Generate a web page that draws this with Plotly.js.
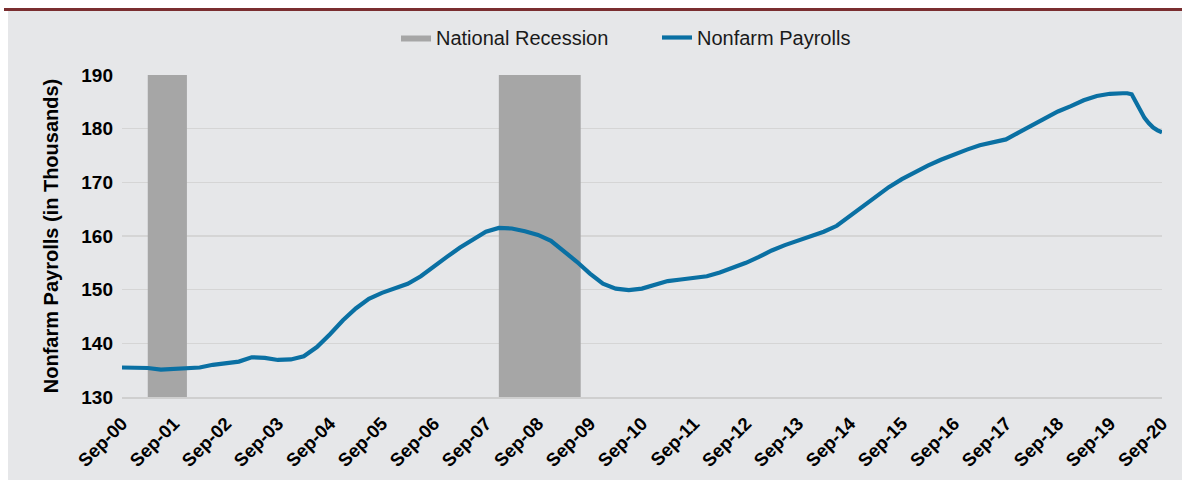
<!DOCTYPE html>
<html>
<head>
<meta charset="utf-8">
<script src="https://cdn.plot.ly/plotly-3.0.1.min.js"></script>
<style>html,body{margin:0;padding:0;background:#ffffff;}#chart{width:1182px;height:487px;}</style>
</head>
<body>
<div id="chart"></div>
<script>
// ---- Data ----
const payrollDates = [
  "2000-09-01","2000-12-01","2001-03-01","2001-06-01","2001-09-01","2001-12-01",
  "2002-03-01","2002-06-01","2002-09-01","2002-12-01","2003-03-01","2003-06-01",
  "2003-09-01","2003-12-01","2004-03-01","2004-06-01","2004-09-01","2004-12-01",
  "2005-03-01","2005-06-01","2005-09-01","2005-12-01","2006-03-01","2006-06-01",
  "2006-09-01","2006-12-01","2007-03-01","2007-06-01","2007-09-01","2007-12-01",
  "2008-03-01","2008-06-01","2008-09-01","2008-12-01","2009-03-01","2009-06-01",
  "2009-09-01","2009-12-01","2010-03-01","2010-06-01","2010-09-01","2010-12-01",
  "2011-03-01","2011-06-01","2011-09-01","2011-12-01","2012-03-01","2012-06-01",
  "2012-09-01","2012-12-01","2013-03-01","2013-06-01","2013-09-01","2013-12-01",
  "2014-03-01","2014-06-01","2014-09-01","2014-12-01","2015-03-01","2015-06-01",
  "2015-09-01","2015-12-01","2016-03-01","2016-06-01","2016-09-01","2016-12-01",
  "2017-03-01","2017-06-01","2017-09-01","2017-12-01","2018-03-01","2018-06-01",
  "2018-09-01","2018-12-01","2019-03-01","2019-06-01","2019-09-01","2019-12-01",
  "2020-01-01","2020-02-01","2020-03-01","2020-04-01","2020-05-01","2020-06-01",
  "2020-07-01","2020-08-01","2020-09-01"
];
const nonfarmPayrolls = [
  135.5,135.5,135.4,135.1,135.3,135.5,
  135.5,136.0,136.4,136.6,137.4,137.3,
  136.9,137.0,137.6,139.3,141.7,144.3,
  146.5,148.3,149.4,150.2,151.1,152.5,
  154.2,156.1,157.8,159.4,160.8,161.5,
  161.4,160.9,160.2,159.1,157.2,155.2,
  153.0,151.1,150.2,149.9,150.2,151.0,
  151.6,151.9,152.3,152.5,153.2,154.1,
  155.0,156.1,157.3,158.3,159.1,160.0,
  160.8,161.9,163.7,165.6,167.4,169.1,
  170.6,171.9,173.1,174.2,175.2,176.1,
  176.9,177.5,178.0,179.3,180.6,181.8,
  183.2,184.2,185.3,186.1,186.5,186.6,
  186.6,186.4,185.0,183.2,182.0,181.0,
  180.2,179.7,179.3
];
const recessionStart = ["2001-03-01","2007-12-01"];
const recessionEnd   = ["2001-12-01","2009-06-28"];
const yMin = 130, yMax = 190;
const seriesNames = ["National Recession","Nonfarm Payrolls"];
const xStart = "2000-09-01", xEnd = "2020-09-01";
const yTitle = "Nonfarm Payrolls (in Thousands)";

// ---- Build recession polygons ----
const recX = [], recY = [];
recessionStart.forEach((s, i) => {
  recX.push(s, s, recessionEnd[i], recessionEnd[i], null);
  recY.push(yMin, yMax, yMax, yMin, null);
});

const FONT = "Liberation Sans, Arial, Helvetica, sans-serif";
const traces = [
  {
    type: "scatter", mode: "lines", name: seriesNames[0],
    x: recX, y: recY, fill: "toself", fillcolor: "#a6a6a6",
    line: {width: 0, color: "#a6a6a6"}, hoverinfo: "skip", connectgaps: false
  },
  {
    type: "scatter", mode: "lines", name: seriesNames[1],
    x: payrollDates, y: nonfarmPayrolls,
    line: {color: "#0a70a3", width: 4.2}
  }
];

// pixel -> paper helpers (plot area 122..1162 x, 75..397 y)
const L = 122, R = 20, T = 75, B = 90, W = 1182, H = 487;
const pw = W - L - R, ph = H - T - B;
const px = v => (v - L) / pw;
const py = v => (H - B - v) / ph;

const layout = {
  width: W, height: H, autosize: false,
  margin: {l: L, r: R, t: T, b: B, pad: 0},
  paper_bgcolor: "#e6e7e9", plot_bgcolor: "#e6e7e9",
  font: {family: FONT, color: "#000000"},
  showlegend: true,
  legend: {
    orientation: "h", xref: "container", yref: "container",
    x: 396 / W, xanchor: "left", y: 1 - 18 / H, yanchor: "top",
    bgcolor: "rgba(0,0,0,0)", font: {size: 20, color: "#1a1a1a", family: FONT},
    entrywidth: 216, entrywidthmode: "pixels", traceorder: "normal"
  },
  xaxis: {
    type: "date", range: [xStart, xEnd],
    tick0: xStart, dtick: "M12", tickformat: "%b-%y",
    tickangle: -45, ticks: "", showgrid: false, zeroline: false,
    showline: true, linecolor: "#cfcfcf", linewidth: 1.5,
    ticklabelstandoff: 7,
    tickfont: {size: 18.5, family: FONT, weight: "bold", color: "#000000"}
  },
  yaxis: {
    range: [yMin, yMax], dtick: 10, tick0: 130,
    showgrid: true, gridcolor: "#d5d5d5", gridwidth: 1.5, zeroline: false,
    ticks: "", ticklabelstandoff: 8,
    tickfont: {size: 19, family: FONT, weight: "bold", color: "#000000"},
    title: {text: yTitle, standoff: 17, font: {size: 20, family: FONT, weight: "bold", color: "#000000"}}
  },
  shapes: [
    {type: "rect", xref: "paper", yref: "paper", x0: px(-5), x1: px(W + 5), y0: py(-5), y1: py(9), fillcolor: "#ffffff", line: {width: 0}, layer: "below"},
    {type: "rect", xref: "paper", yref: "paper", x0: px(-5), x1: px(8), y0: py(-5), y1: py(H + 5), fillcolor: "#ffffff", line: {width: 0}, layer: "below"},
    {type: "rect", xref: "paper", yref: "paper", x0: px(-5), x1: px(W + 5), y0: py(480), y1: py(H + 5), fillcolor: "#ffffff", line: {width: 0}, layer: "below"},
    {type: "rect", xref: "paper", yref: "paper", x0: px(4), x1: px(W + 5), y0: py(8), y1: py(11), fillcolor: "#7a2e30", line: {width: 0}, layer: "below"}
  ]
};

Plotly.newPlot("chart", traces, layout, {displayModeBar: false, staticPlot: true});
</script>
</body>
</html>
